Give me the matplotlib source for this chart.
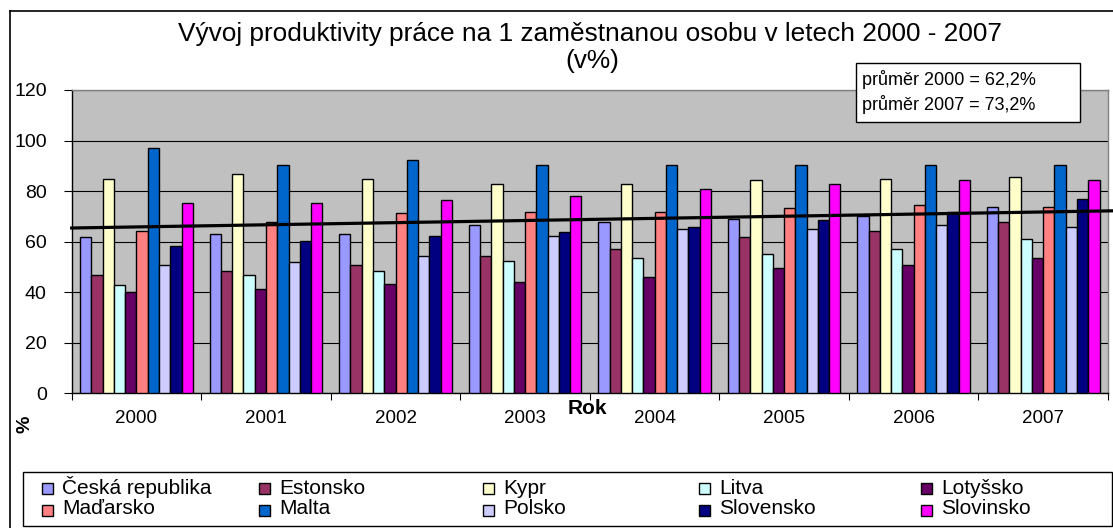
import matplotlib
matplotlib.use("Agg")
import matplotlib.pyplot as plt
import numpy as np
from matplotlib.patches import Rectangle
from matplotlib.lines import Line2D

plt.rcParams['font.family'] = ['Liberation Sans', 'DejaVu Sans']

years = ['2000', '2001', '2002', '2003', '2004', '2005', '2006', '2007']
countries = ['Česká republika', 'Estonsko', 'Kypr', 'Litva', 'Lotyšsko',
             'Maďarsko', 'Malta', 'Polsko', 'Slovensko', 'Slovinsko']
colors = ['#9999FF', '#993366', '#FFFFCC', '#CCFFFF', '#660066',
          '#FF8080', '#0066CC', '#CCCCFF', '#000080', '#FF00FF']

cz = [61.7, 63.1, 63.1, 66.5, 67.8, 69.1, 70.2, 73.9]
ee = [46.8, 48.2, 50.9, 54.4, 56.9, 61.7, 64.4, 67.8]
cy = [84.8, 86.8, 84.8, 82.7, 82.7, 84.2, 84.8, 85.5]
lt = [42.7, 46.8, 48.2, 52.2, 53.6, 55.0, 56.9, 60.9]
lv = [40.0, 41.4, 43.4, 44.2, 46.2, 49.5, 50.8, 53.6]
hu = [64.4, 67.9, 71.2, 71.9, 71.9, 73.2, 74.5, 73.9]
mt = [97.0, 90.2, 92.2, 90.2, 90.2, 90.2, 90.2, 90.2]
pl = [50.9, 52.1, 54.4, 62.4, 65.0, 65.0, 66.5, 65.8]
sk = [58.4, 60.4, 62.4, 63.7, 65.8, 68.5, 71.9, 76.8]
si = [75.3, 75.3, 76.6, 78.0, 80.7, 82.7, 84.2, 84.2]
series = [cz, ee, cy, lt, lv, hu, mt, pl, sk, si]

trend_start = 65.4
trend_end = 72.2

title_line1 = 'Vývoj produktivity práce na 1 zaměstnanou osobu v letech 2000 - 2007'
title_line2 = '(v%)'
note = 'průměr 2000 = 62,2%\nprůměr 2007 = 73,2%'

W, H = 1113, 528
fig = plt.figure(figsize=(W / 100, H / 100), dpi=100)
fig.patch.set_facecolor('white')

def fx(px):
    return px / W

def fy(py):
    return 1 - py / H

ax = fig.add_axes([fx(71.7), fy(393.3), fx(1108) - fx(71.7), fy(90) - fy(393.3)])
ax.set_facecolor('#C0C0C0')

n = len(series)
bw = 1 / (n + 1.5)
x = np.arange(len(years))
for i, (vals, c, name) in enumerate(zip(series, colors, countries)):
    off = (i - (n - 1) / 2) * bw
    ax.bar(x + off, vals, width=bw, color=c, edgecolor='black',
           linewidth=1.0, label=name, zorder=3)

ax.set_xlim(-0.5, len(years) - 0.5)
ax.set_ylim(0, 120)
ax.set_yticks(np.arange(0, 121, 20))
ax.yaxis.grid(True, color='black', linewidth=0.8, zorder=1)
ax.set_axisbelow(True)

ax.set_xticks(x)
ax.set_xticklabels(years, fontsize=13.5)
ax.set_xticks(np.arange(-0.5, len(years), 1), minor=True)
ax.tick_params(axis='x', which='major', length=0, pad=12)
ax.tick_params(axis='x', which='minor', length=5, width=0.8, direction='out')
ax.tick_params(axis='y', length=6, width=0.8, direction='out', pad=12, labelsize=14)

for s in ['top', 'right']:
    ax.spines[s].set_color('#808080')
    ax.spines[s].set_linewidth(1.0)
for s in ['left', 'bottom']:
    ax.spines[s].set_color('black')
    ax.spines[s].set_linewidth(1.0)

# trend line, extended past the plot edge
x0, x1 = -0.5, 7.54
ax.plot([x0, x1], [trend_start, trend_end], color='black', linewidth=2.3,
        clip_on=False, zorder=5)

# title
fig.text(fx(590), fy(34), title_line1, ha='center', va='center', fontsize=18.9)
fig.text(fx(592), fy(61), title_line2, ha='center', va='center', fontsize=18.9)

# annotation box
fig.patches.append(Rectangle((fx(856), fy(122)), fx(1080) - fx(856), fy(63) - fy(122),
                             transform=fig.transFigure, facecolor='white',
                             edgecolor='black', linewidth=1.0, zorder=6))
fig.text(fx(862), fy(92), note, ha='left', va='center', fontsize=13,
         linespacing=1.35, zorder=7)

# axis labels
fig.text(fx(587), fy(408), 'Rok', ha='center', va='center', fontsize=15,
         fontweight='bold')
fig.text(fx(25.5), fy(424), '%', ha='center', va='center', fontsize=14,
         fontweight='bold', rotation=90)

# outer chart border (cropped at right and bottom)
fig.lines.append(Line2D([fx(9.5), fx(9.5)], [0, fy(11)], transform=fig.transFigure,
                        color='black', linewidth=1.2))
fig.lines.append(Line2D([fx(9.5), 1], [fy(11), fy(11)], transform=fig.transFigure,
                        color='black', linewidth=1.2))

# legend frame
fig.patches.append(Rectangle((fx(22.7), fy(525.7)), fx(1111.7) - fx(22.7),
                             fy(472) - fy(525.7), transform=fig.transFigure,
                             facecolor='white', edgecolor='black', linewidth=1.0))

# legend entries: 5 columns x 2 rows, filled row-wise
col_x = [42, 259, 483, 699, 921]
row_handle_y = [488.5, 510]
row_base_y = [493.5, 514]
for k, (name, c) in enumerate(zip(countries, colors)):
    r, ci = divmod(k, 5)
    hx = col_x[ci]
    hy = row_handle_y[r]
    fig.patches.append(Rectangle((fx(hx), fy(hy + 5.5)), fx(11), 11 / H,
                                 transform=fig.transFigure, facecolor=c,
                                 edgecolor='black', linewidth=1.0, zorder=3))
    fig.text(fx(hx + 20), fy(row_base_y[r]), name, ha='left', va='baseline',
             fontsize=15, zorder=3)

fig.savefig('out.png', dpi=100)
